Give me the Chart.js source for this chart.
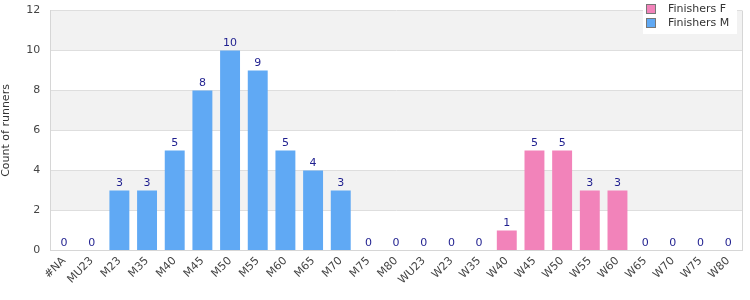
<!DOCTYPE html>
<html>
<head>
<meta charset="utf-8">
<script src="https://cdn.jsdelivr.net/npm/chart.js@4/dist/chart.umd.min.js"></script>
<style>
  html, body { margin: 0; padding: 0; background: #fff; }
  #wrap { width: 750px; height: 300px; }
</style>
</head>
<body>
<div id="wrap"><canvas id="myChart"></canvas></div>
<script>
    var categories = ['#NA', 'MU23', 'M23', 'M35', 'M40', 'M45', 'M50', 'M55', 'M60', 'M65', 'M70', 'M75', 'M80',
        'WU23', 'W23', 'W35', 'W40', 'W45', 'W50', 'W55', 'W60', 'W65', 'W70', 'W75', 'W80'];
    var finishersF = [0, 0, 0, 0, 0, 0, 0, 0, 0, 0, 0, 0, 0, 0, 0, 0, 1, 5, 5, 3, 3, 0, 0, 0, 0];
    var finishersM = [0, 0, 3, 3, 5, 8, 10, 9, 5, 4, 3, 0, 0, 0, 0, 0, 0, 0, 0, 0, 0, 0, 0, 0, 0];
    var yTicks = [0, 2, 4, 6, 8, 10, 12];

    Chart.defaults.font.family = 'DejaVu Sans';
    Chart.defaults.font.size = 11;

    // alternating grey bands behind the bars
    const bands = {
        id: 'bands',
        beforeDraw(chart) {
            const c = chart.ctx, a = chart.chartArea, y = chart.scales.y;
            c.save();
            for (var i = 0; i < yTicks.length - 1; i++) {
                if (i % 2 == 1) {
                    var t = y.getPixelForValue(yTicks[i + 1]), b = y.getPixelForValue(yTicks[i]);
                    c.fillStyle = '#f2f2f2';
                    c.fillRect(a.left, t, a.right - a.left, b - t);
                }
            }
            c.restore();
        }
    };

    // totals above each stack + frame + legend box
    const totals = {
        id: 'totals',
        afterDraw(chart) {
            const c = chart.ctx, a = chart.chartArea, x = chart.scales.x, y = chart.scales.y;
            c.save();
            c.strokeStyle = '#d6d6d6';
            c.lineWidth = 1;
            c.beginPath();
            c.moveTo(Math.round(a.right) + 0.5, a.top);
            c.lineTo(Math.round(a.right) + 0.5, a.bottom);
            c.stroke();

            c.font = '11px DejaVu Sans';
            c.fillStyle = '#1f1f8f';
            c.textAlign = 'center';
            c.textBaseline = 'bottom';
            categories.forEach(function (cat, i) {
                var tot = finishersF[i] + finishersM[i];
                c.fillText(String(tot), x.getPixelForValue(i), y.getPixelForValue(tot) - 2);
            });
            // legend
            var lx = 643, ly = 0;
            c.fillStyle = '#fff';
            c.fillRect(lx, ly, 94, 34);
            chart.data.datasets.forEach(function (ds, k) {
                var yy = ly + 9 + k * 14;
                c.fillStyle = ds.backgroundColor;
                c.fillRect(lx + 4, yy - 4, 8, 8);
                c.strokeStyle = '#777';
                c.lineWidth = 1;
                c.strokeRect(lx + 3.5, yy - 4.5, 9, 9);
                c.fillStyle = '#333';
                c.textAlign = 'left';
                c.textBaseline = 'middle';
                c.fillText(ds.label, lx + 25, yy);
            });
            c.restore();
        }
    };

    const ctx = document.getElementById('myChart').getContext('2d');
    const myChart = new Chart(ctx, {
        type: 'bar',
        data: {
            labels: categories,
            datasets: [{
                    label: 'Finishers F',
                    data: finishersF,
                    backgroundColor: '#f283ba'
                }, {
                    label: 'Finishers M',
                    data: finishersM,
                    backgroundColor: '#60a9f4'
                }]
        },
        options: {
            responsive: true,
            maintainAspectRatio: false,
            animation: false,
            layout: { padding: { top: 6, right: 8, bottom: 9 } },
            plugins: {
                legend: { display: false },
                tooltip: { enabled: false }
            },
            scales: {
                x: {
                    stacked: true,
                    grid: { display: false, drawTicks: false },
                    border: { color: '#d6d6d6' },
                    ticks: { color: '#444', maxRotation: 45, minRotation: 45, autoSkip: false, padding: 4 }
                },
                y: {
                    stacked: true,
                    min: 0, max: 12,
                    afterBuildTicks(axis) { axis.ticks = yTicks.map(function (v) { return { value: v }; }); },
                    grid: { color: '#dedede', drawTicks: false },
                    border: { color: '#d6d6d6' },
                    ticks: { color: '#444', padding: 10, font: { lineHeight: 0.1 } },
                    title: { display: true, text: 'Count of runners', color: '#333', padding: { top: 0, bottom: 3 } }
                }
            }
        },
        plugins: [bands, totals]
    });
</script>
</body>
</html>
